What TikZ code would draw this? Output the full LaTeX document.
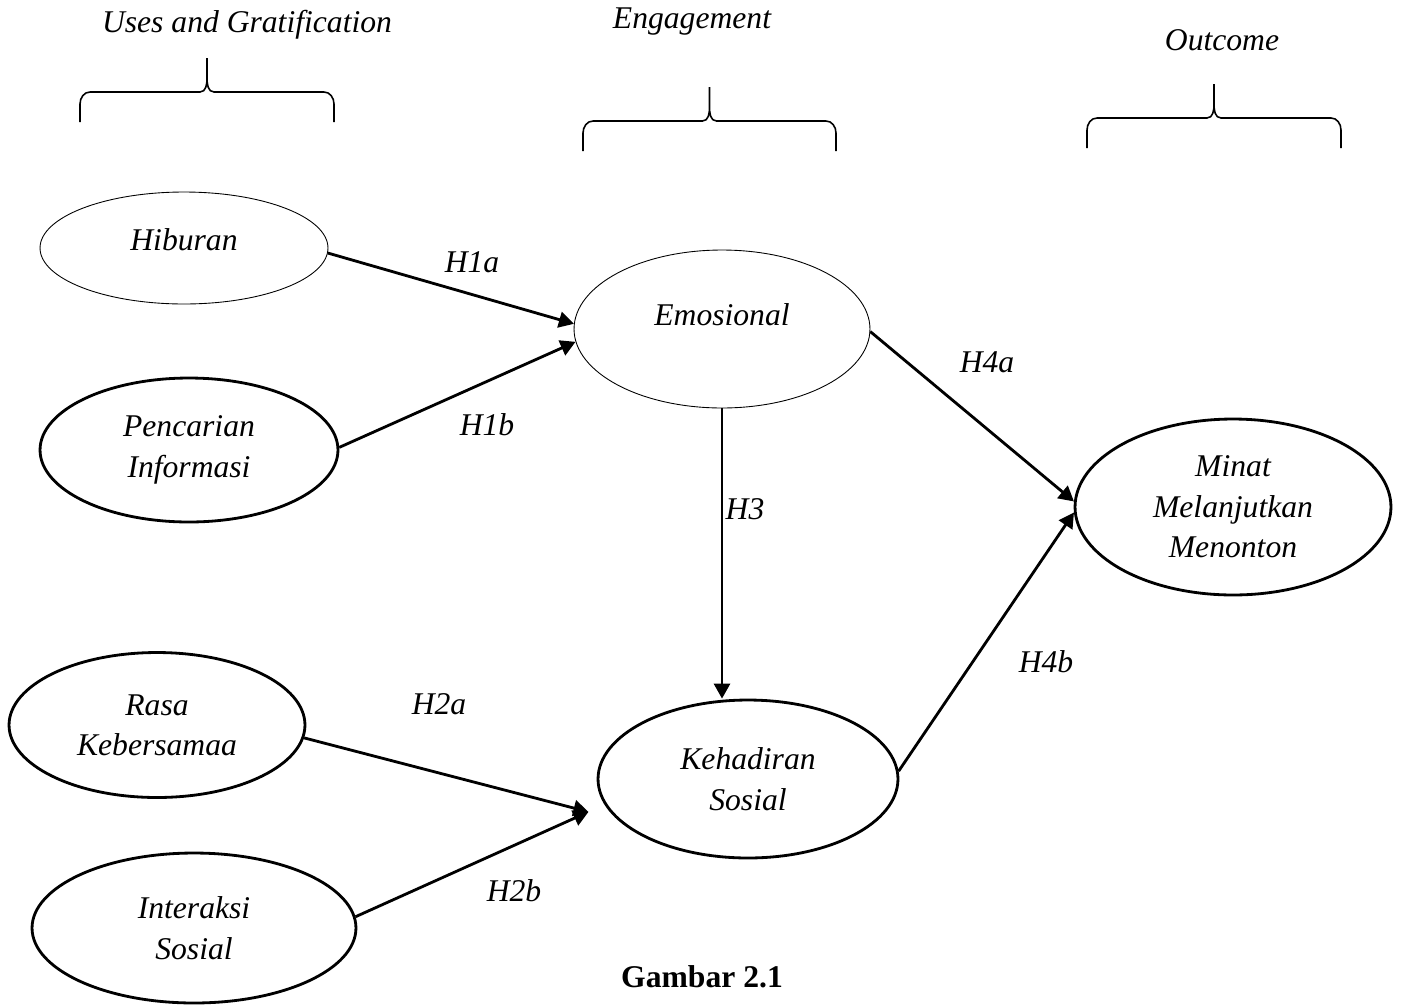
\documentclass[tikz,border=0pt]{standalone}
\usepackage{fontspec}
\setmainfont{Liberation Serif}
\usetikzlibrary{shapes.geometric,arrows.meta}

\begin{document}
\begin{tikzpicture}[x=0.02cm,y=-0.02cm,
                >={Triangle[length=0.3cm,width=0.32cm]},
                oval/.style={ellipse,draw,line width=1.6pt,inner sep=0pt,
                align=center,font=\fontsize{18}{23}\selectfont\itshape},
                thinoval/.style={oval,line width=0.5pt},
                link/.style={->,line width=1.6pt},
                hyp/.style={font=\fontsize{18}{23}\selectfont\itshape},
                curly/.style={line width=0.9pt}]
                \useasboundingbox (0,0) rectangle (1403,1005);
                \node (t1) at (247,25) [hyp] {Uses and Gratification};
                \node (t2) at (692,22) [hyp] {Engagement};
                \node (t3) at (1222,40) [hyp] {Outcome};
                \foreach \xl/\xr/\yh in {80/334/92, 583/836/121, 1087/1341/118}{
                    \pgfmathsetmacro{\xc}{(\xl+\xr)/2}
                    \draw[curly] (\xl,\yh+30) -- (\xl,\yh+12) to[out=90,in=180] (\xl+10,\yh)
                        -- (\xc-7,\yh) to[out=0,in=-90] (\xc,\yh-14) -- (\xc,\yh-34)
                        (\xc,\yh-14) to[out=-90,in=180] (\xc+7,\yh)
                        -- (\xr-10,\yh) to[out=0,in=90] (\xr,\yh+12) -- (\xr,\yh+30);
                }
                \node (hib) at (184,248) [thinoval,minimum width=5.76cm,minimum height=2.24cm] {\raisebox{0.32cm}{Hiburan}};
                \node (pen) at (189,450) [oval,minimum width=5.96cm,minimum height=2.88cm] {Pencarian\\Informasi};
                \node (rasa) at (157,725) [oval,minimum width=5.92cm,minimum height=2.9cm] {Rasa\\Kebersamaa};
                \node (inter) at (194,928) [oval,minimum width=6.48cm,minimum height=3cm] {Interaksi\\Sosial};
                \node (emo) at (722,329) [thinoval,minimum width=5.92cm,minimum height=3.16cm] {\raisebox{0.56cm}{Emosional}};
                \node (keh) at (748,779) [oval,minimum width=6cm,minimum height=3.16cm] {Kehadiran\\Sosial};
                \node (minat) at (1233,507) [oval,minimum width=6.32cm,minimum height=3.52cm] {Minat\\Melanjutkan\\Menonton};
                \coordinate (kehin) at ([shift={(-19,3)}]keh.192);
                \draw (hib.-2) edge[link] (emo.178);
                \draw (pen.1) edge[link] (emo.185);
                \draw (emo.-1) edge[link] (minat.178);
                \draw (emo.south) edge[link] (keh.north -| emo.south);
                \draw (rasa.-5) edge[link] (kehin);
                \draw (inter.4) edge[link] (kehin);
                \draw (keh.3) edge[link] (minat.182);
                \node (h1a) at (472,262) [hyp] {H1a};
                \node (h1b) at (487,425) [hyp] {H1b};
                \node (h4a) at (987,362) [hyp] {H4a};
                \node (h3) at (745,509) [hyp] {H3};
                \node (h4b) at (1046,662) [hyp] {H4b};
                \node (h2a) at (439,704) [hyp] {H2a};
                \node (h2b) at (514,891) [hyp] {H2b};
                \node (cap) at (702,977) [font=\fontsize{18}{23}\selectfont\bfseries] {Gambar 2.1};
            \end{tikzpicture}
\end{document}
